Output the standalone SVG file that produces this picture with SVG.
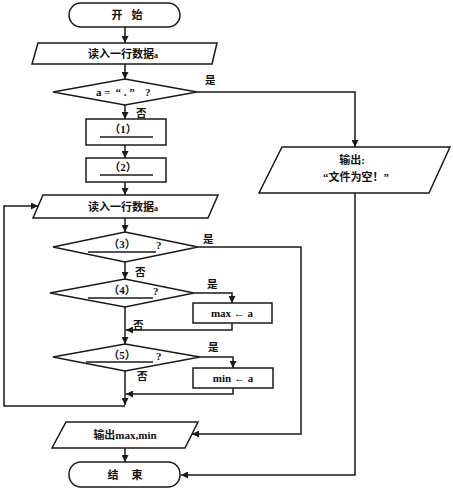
<svg xmlns="http://www.w3.org/2000/svg" width="453" height="490" viewBox="0 0 453 490">
<style>
.s{fill:#fff;stroke:#1a1a1a;stroke-width:1.5}
.c{fill:none;stroke:#1a1a1a;stroke-width:1.5}
.u{stroke:#1a1a1a;stroke-width:1.3}
text{font-family:"Liberation Serif","Noto Sans CJK SC",serif;font-weight:bold;fill:#111;font-size:11px}
.m{text-anchor:middle}
.l{font-family:"Noto Sans CJK SC",sans-serif;font-size:10.5px}
</style>
<defs>
<marker id="a" viewBox="0 0 10 10" refX="10" refY="5" markerWidth="7" markerHeight="7" markerUnits="userSpaceOnUse" orient="auto">
<path d="M0,0 L10,5 L0,10 z" fill="#1a1a1a"/>
</marker>
</defs>
<rect width="453" height="490" fill="#fff"/>
<g id="connectors">
<path class="c" d="M125,27 V43" marker-end="url(#a)"/>
<path class="c" d="M125,64 V79" marker-end="url(#a)"/>
<path class="c" d="M197,92 H355 V147" marker-end="url(#a)"/>
<path class="c" d="M125,105 V119" marker-end="url(#a)"/>
<path class="c" d="M125,145 V158" marker-end="url(#a)"/>
<path class="c" d="M125,182 V195" marker-end="url(#a)"/>
<path class="c" d="M125,218 V232" marker-end="url(#a)"/>
<path class="c" d="M198,247 H301 V434 H192" marker-end="url(#a)"/>
<path class="c" d="M125,262 V279" marker-end="url(#a)"/>
<path class="c" d="M194,293 H232 V303" marker-end="url(#a)"/>
<path class="c" d="M125,307 V344" marker-end="url(#a)"/>
<path class="c" d="M232,323 V330 H126" marker-end="url(#a)"/>
<path class="c" d="M200,357 H233 V368" marker-end="url(#a)"/>
<path class="c" d="M233,388 V394 H126" marker-end="url(#a)"/>
<path class="c" d="M125,371 V405" marker-end="url(#a)"/>
<path class="c" d="M125,406 H4 V206 H38" marker-end="url(#a)"/>
<path class="c" d="M125,448 V462" marker-end="url(#a)"/>
<path class="c" d="M355,193 V475 H181" marker-end="url(#a)"/>
<text class="l" x="205" y="84">是</text>
<text class="l" x="136" y="117">否</text>
<text class="l" x="203" y="243">是</text>
<text class="l" x="135" y="276">否</text>
<text class="l" x="207" y="288">是</text>
<text class="l" x="133" y="329">否</text>
<text class="l" x="208" y="351">是</text>
<text class="l" x="137" y="380">否</text>
</g>
<g id="start">
<rect class="s" x="69" y="3" width="111" height="24" rx="12"/>
<text class="m" x="117" y="19">开</text>
<text class="m" x="137" y="19">始</text>
</g>
<g id="read1">
<polygon class="s" points="38,43 217,43 212,64 32,64"/>
<text class="m" x="123" y="58">读入一行数据<tspan font-size="8">a</tspan></text>
</g>
<g id="dec1">
<polygon class="s" points="125,79 197,92 125,105 53,92"/>
<text x="96" y="96" font-size="10">a =</text>
<text class="m" x="125" y="96" font-size="10">“ . ”</text>
<text x="145" y="96" font-size="10">?</text>
</g>
<g id="box1">
<rect class="s" x="86" y="119" width="80" height="26"/>
<text class="m" x="123" y="133">（1）</text>
<line class="u" x1="100" y1="137" x2="153" y2="137"/>
</g>
<g id="box2">
<rect class="s" x="86" y="158" width="80" height="24"/>
<text class="m" x="123" y="171">（2）</text>
<line class="u" x1="100" y1="175" x2="153" y2="175"/>
</g>
<g id="read2">
<polygon class="s" points="43,195 218,195 208,218 33,218"/>
<text class="m" x="123" y="211">读入一行数据<tspan font-size="8">a</tspan></text>
</g>
<g id="dec3">
<polygon class="s" points="125,232 198,247 125,262 53,247"/>
<text class="m" x="122" y="248">（3）</text>
<text x="156" y="249" font-size="10">?</text>
<line class="u" x1="88" y1="252" x2="156" y2="252"/>
</g>
<g id="dec4">
<polygon class="s" points="125,279 194,293 125,307 50,293"/>
<text class="m" x="122" y="294">（4）</text>
<text x="153" y="295" font-size="10">?</text>
<line class="u" x1="88" y1="298" x2="153" y2="298"/>
</g>
<g id="maxbox">
<rect class="s" x="193" y="303" width="79" height="20"/>
<text class="m" x="232" y="317" font-size="10">max ← a</text>
</g>
<g id="dec5">
<polygon class="s" points="125,344 200,357 125,371 53,357"/>
<text class="m" x="122" y="359">（5）</text>
<text x="156" y="360" font-size="10">?</text>
<line class="u" x1="86" y1="362" x2="153" y2="362"/>
</g>
<g id="minbox">
<rect class="s" x="193" y="368" width="80" height="20"/>
<text class="m" x="233" y="382" font-size="10">min ← a</text>
</g>
<g id="output">
<polygon class="s" points="66,422 198,422 185,448 52,448"/>
<text class="m" x="125" y="439">输出max,min</text>
</g>
<g id="end">
<rect class="s" x="69" y="462" width="111" height="25" rx="12"/>
<text class="m" x="113" y="479">结</text>
<text class="m" x="137" y="479">束</text>
</g>
<g id="outEmpty">
<polygon class="s" points="282,147 450,147 429,193 259,193"/>
<text class="m" x="352" y="164">输出:</text>
<text class="m" x="356" y="181">“文件为空！”</text>
</g>
</svg>
